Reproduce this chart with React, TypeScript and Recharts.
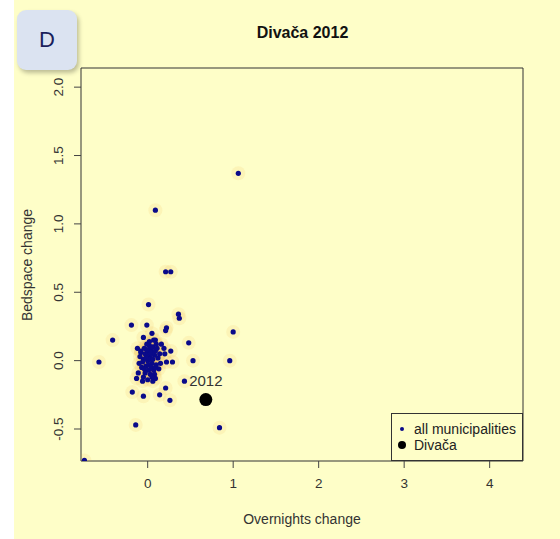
import { ScatterChart, Scatter, XAxis, YAxis, ReferenceArea, Legend, LabelList } from "recharts";

const X_TICKS = [0, 1, 2, 3, 4];
const Y_TICKS = [-0.5, 0, 0.5, 1, 1.5, 2];
const X_DOMAIN = [-0.78, 4.39];
const Y_DOMAIN = [-0.734, 2.14];

// overnights change / bedspace change for each municipality
const OUTLIERS = [
  { x: 1.06, y: 1.37 }, { x: 0.09, y: 1.1 }, { x: 0.21, y: 0.65 }, { x: 0.27, y: 0.65 },
  { x: 0.01, y: 0.41 }, { x: 0.36, y: 0.34 }, { x: 0.37, y: 0.31 }, { x: 1.0, y: 0.21 },
  { x: -0.19, y: 0.26 }, { x: -0.01, y: 0.26 }, { x: 0.22, y: 0.24 }, { x: 0.21, y: 0.22 },
  { x: -0.41, y: 0.15 }, { x: 0.48, y: 0.13 }, { x: -0.57, y: -0.01 }, { x: 0.53, y: 0.0 },
  { x: 0.96, y: 0.0 }, { x: 0.43, y: -0.15 }, { x: 0.21, y: -0.2 }, { x: 0.14, y: -0.25 },
  { x: 0.26, y: -0.29 }, { x: -0.05, y: -0.26 }, { x: -0.18, y: -0.23 }, { x: -0.14, y: -0.47 },
  { x: 0.84, y: -0.49 }, { x: -0.74, y: -0.73 },
];
const NEAR = [
  { x: -0.05, y: 0.17 }, { x: 0.05, y: 0.2 }, { x: 0.09, y: 0.15 }, { x: 0.16, y: 0.12 },
  { x: 0.27, y: 0.07 }, { x: 0.2, y: 0.05 }, { x: 0.29, y: -0.01 }, { x: 0.22, y: -0.01 },
  { x: -0.12, y: 0.09 }, { x: -0.08, y: 0.06 }, { x: 0.02, y: 0.11 }, { x: -0.11, y: -0.09 },
  { x: -0.13, y: -0.13 }, { x: -0.06, y: -0.15 }, { x: 0.06, y: -0.15 }, { x: 0.09, y: -0.13 },
  { x: 0.19, y: 0.09 },
];
const CORE = [
  { x: 0.0, y: 0.0 }, { x: 0.02, y: 0.03 }, { x: -0.03, y: 0.05 }, { x: 0.05, y: -0.02 },
  { x: -0.02, y: -0.04 }, { x: 0.08, y: 0.04 }, { x: 0.04, y: 0.08 }, { x: -0.05, y: 0.01 },
  { x: 0.01, y: -0.07 }, { x: 0.1, y: -0.03 }, { x: -0.07, y: -0.05 }, { x: 0.06, y: 0.1 },
  { x: 0.03, y: -0.1 }, { x: -0.04, y: 0.09 }, { x: 0.12, y: 0.02 }, { x: 0.07, y: -0.07 },
  { x: -0.01, y: 0.12 }, { x: 0.09, y: 0.07 }, { x: -0.09, y: 0.03 }, { x: 0.13, y: -0.06 },
  { x: 0.0, y: 0.05 }, { x: 0.03, y: 0.01 }, { x: -0.02, y: 0.02 }, { x: 0.05, y: 0.05 },
  { x: 0.01, y: -0.03 }, { x: 0.06, y: 0.01 }, { x: -0.06, y: -0.01 }, { x: 0.04, y: -0.05 },
  { x: 0.11, y: 0.09 }, { x: -0.03, y: -0.09 }, { x: 0.08, y: -0.1 }, { x: 0.02, y: 0.14 },
  { x: -0.08, y: 0.07 }, { x: 0.14, y: 0.05 }, { x: 0.1, y: 0.12 }, { x: -0.05, y: -0.12 },
  { x: 0.0, y: -0.14 }, { x: 0.07, y: 0.15 }, { x: 0.15, y: -0.02 }, { x: -0.1, y: -0.02 },
  { x: 0.03, y: 0.06 }, { x: -0.01, y: 0.08 }, { x: 0.09, y: -0.05 }, { x: 0.05, y: -0.12 },
  { x: -0.04, y: -0.06 },
];
const MUNICIPALITIES = [...OUTLIERS, ...NEAR, ...CORE];
const DIVACA = [{ x: 0.68, y: -0.285, year: "2012" }];

const BG = "#fefec8";
const NAVY = "#0a0a8a";
const FONT = "'Liberation Sans', Arial, sans-serif";

const Halo = (p: any) => <circle cx={p.cx} cy={p.cy} r={7} fill="#f0a030" fillOpacity={0.11} />;
const Dot = (p: any) => <circle cx={p.cx} cy={p.cy} r={2.6} fill={NAVY} />;
const Big = (p: any) => <circle cx={p.cx} cy={p.cy} r={6.5} fill="#000" />;

const YTick = ({ x, y, payload }: any) => (
  <text x={x} y={y} transform={`rotate(-90 ${x} ${y})`} textAnchor="middle" fontSize={13.5} fill="#333" fontFamily={FONT}>
    {payload.value.toFixed(1)}
  </text>
);

function LegendBox() {
  return (
    <div style={{ width: 130, height: 46, border: "1px solid #333", background: BG, fontFamily: FONT, fontSize: 14, color: "#222", position: "relative", lineHeight: "16px" }}>
      <div style={{ position: "absolute", left: 8, top: 13, width: 4, height: 4, borderRadius: 2, background: NAVY }} />
      <div style={{ position: "absolute", left: 22, top: 7 }}>all municipalities</div>
      <div style={{ position: "absolute", left: 6, top: 27, width: 8, height: 8, borderRadius: 4, background: "#000" }} />
      <div style={{ position: "absolute", left: 22, top: 23 }}>Divača</div>
    </div>
  );
}

export default function App() {
  return (
    <div style={{ position: "absolute", left: 0, top: 0, width: 560, height: 539, background: "#fff", fontFamily: FONT }}>
      <div style={{ position: "absolute", left: 14, top: 0, width: 546, height: 539, background: BG }} />
      <div style={{ position: "absolute", left: 0, top: 0 }}>
        <ScatterChart width={560} height={539} margin={{ top: 68, right: 37, bottom: 20, left: 21 }}>
          <XAxis
            type="number"
            dataKey="x"
            domain={X_DOMAIN}
            ticks={X_TICKS}
            allowDataOverflow
            height={58}
            axisLine={false}
            tickSize={7}
            tickMargin={10}
            tickLine={{ stroke: "#444" }}
            tick={{ fontSize: 13.5, fill: "#333", fontFamily: FONT }}
            label={{
              content: () => (
                <text x={302} y={524} textAnchor="middle" fontSize={14} fill="#333" fontFamily={FONT}>Overnights change</text>
              ),
            }}
          />
          <YAxis
            type="number"
            dataKey="y"
            domain={Y_DOMAIN}
            ticks={Y_TICKS}
            allowDataOverflow
            width={60}
            axisLine={false}
            tickSize={7}
            tickMargin={11}
            tickLine={{ stroke: "#444" }}
            tick={<YTick />}
            label={{
              content: () => (
                <text x={32} y={265} transform="rotate(-90 32 265)" textAnchor="middle" fontSize={14} fill="#333" fontFamily={FONT}>Bedspace change</text>
              ),
            }}
          />
          <ReferenceArea x1={X_DOMAIN[0]} x2={X_DOMAIN[1]} y1={Y_DOMAIN[0]} y2={Y_DOMAIN[1]} fill="none" stroke="#333" strokeWidth={1} ifOverflow="visible" />
          <Scatter name="halo" data={MUNICIPALITIES} shape={Halo} legendType="none" isAnimationActive={false} />
          <Scatter name="all municipalities" data={MUNICIPALITIES} shape={Dot} isAnimationActive={false} />
          <Scatter name="Divača" data={DIVACA} shape={Big} isAnimationActive={false}>
            <LabelList dataKey="year" position="top" offset={9} fontSize={15} fill="#333" fontFamily={FONT} />
          </Scatter>
          <Legend
            layout="horizontal"
            verticalAlign="middle"
            align="center"
            content={() => <LegendBox />}
            wrapperStyle={{ position: "absolute", left: 391, top: 413, width: 132, height: 48 }}
          />
        </ScatterChart>
      </div>
      <div style={{ position: "absolute", left: 0, top: 24, width: 605, textAlign: "center", fontWeight: "bold", fontSize: 16, color: "#111" }}>
        Divača 2012
      </div>
      <div style={{ position: "absolute", left: 17, top: 10, width: 60, height: 60, borderRadius: 9, background: "#dbe3f1", boxShadow: "2px 3px 4px rgba(0,0,0,0.25)", display: "flex", alignItems: "center", justifyContent: "center", fontSize: 22, color: "#1a1f5c" }}>
        D
      </div>
    </div>
  );
}
